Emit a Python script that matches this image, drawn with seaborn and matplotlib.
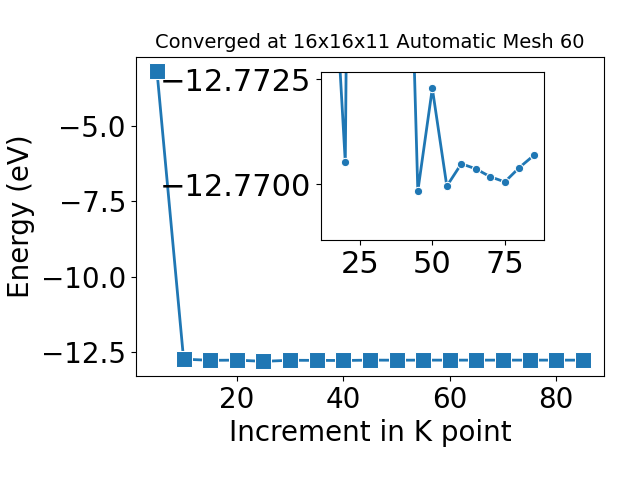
import matplotlib
matplotlib.use("Agg")
import matplotlib.pyplot as plt
import seaborn as sns
import pandas as pd

kpoints = [5, 10, 15, 20, 25, 30, 35, 40, 45, 50, 55, 60, 65, 70, 75, 80, 85]
energy = [-3.17, -12.737, -12.7766, -12.77052, -12.81, -12.775, -12.778, -12.782,
          -12.76984, -12.77228, -12.76996, -12.77049, -12.77037, -12.77018,
          -12.77006, -12.7704, -12.77069]

df = pd.DataFrame({'k': kpoints, 'E': energy})

fig = plt.figure(figsize=(6.4, 4.8), dpi=100)
ax = fig.add_axes([0.212, 0.217, 0.732, 0.665])
sns.lineplot(data=df, x='k', y='E', marker='s', markersize=11, linewidth=2, ax=ax)
ax.set_title('Converged at 16x16x11 Automatic Mesh 60', fontsize=14)
ax.set_xlabel('Increment in K point', fontsize=20)
ax.set_ylabel('Energy (eV)', fontsize=20)
ax.set_xticks([20, 40, 60, 80])
ax.set_yticks([-5.0, -7.5, -10.0, -12.5])
ax.tick_params(labelsize=20)

# zoomed inset, y axis flipped
ins = fig.add_axes([0.501, 0.5, 0.349, 0.351])
sns.lineplot(data=df[df['k'] >= 15], x='k', y='E', marker='o', markersize=6, linewidth=2, ax=ins)
ins.set_ylim(-12.76868, -12.77268)
ins.set_xticks([25, 50, 75])
ins.set_yticks([-12.7725, -12.7700])
ins.set_yticklabels(['\u221212.7725', '\u221212.7700'])
ins.set_xlabel('')
ins.set_ylabel('')
ins.tick_params(labelsize=22)

fig.savefig('out.png', dpi=100)
